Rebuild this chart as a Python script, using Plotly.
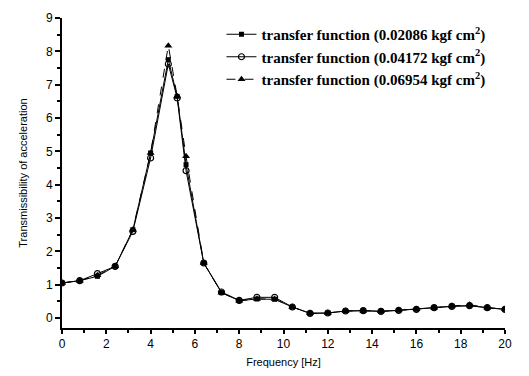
import plotly.graph_objects as go

freq = [0, 0.8, 1.6, 2.4, 3.2, 4.0, 4.8, 5.2, 5.6, 6.4, 7.2, 8.0, 8.8, 9.6, 10.4,
        11.2, 12.0, 12.8, 13.6, 14.4, 15.2, 16.0, 16.8, 17.6, 18.4, 19.2, 20.0]
s1 = [1.05, 1.12, 1.25, 1.55, 2.65, 4.95, 7.75, 6.65, 4.6, 1.65, 0.76, 0.52, 0.57, 0.56, 0.33,
      0.14, 0.15, 0.21, 0.22, 0.2, 0.23, 0.26, 0.31, 0.35, 0.37, 0.31, 0.26]
s2 = [1.05, 1.12, 1.33, 1.55, 2.6, 4.8, 7.62, 6.6, 4.42, 1.65, 0.78, 0.53, 0.62, 0.62, 0.33,
      0.14, 0.15, 0.21, 0.22, 0.2, 0.23, 0.26, 0.31, 0.35, 0.37, 0.31, 0.26]
s3 = [1.05, 1.12, 1.28, 1.55, 2.65, 4.95, 8.17, 6.65, 4.85, 1.65, 0.76, 0.52, 0.57, 0.57, 0.33,
      0.14, 0.15, 0.21, 0.22, 0.2, 0.23, 0.26, 0.31, 0.36, 0.4, 0.31, 0.26]
names = ["transfer function (0.02086 kgf cm<sup>2</sup>)",
         "transfer function (0.04172 kgf cm<sup>2</sup>)",
         "transfer function (0.06954 kgf cm<sup>2</sup>)"]

fig = go.Figure()
fig.add_trace(go.Scatter(x=freq, y=s1, name=names[0], mode="lines+markers",
                         line=dict(color="black", width=1),
                         marker=dict(symbol="square", size=5, color="black")))
fig.add_trace(go.Scatter(x=freq, y=s2, name=names[1], mode="lines+markers",
                         line=dict(color="black", width=1),
                         marker=dict(symbol="circle-open", size=6, color="black", line=dict(width=1.2))))
fig.add_trace(go.Scatter(x=freq, y=s3, name=names[2], mode="lines+markers",
                         line=dict(color="black", width=1, dash="dash"),
                         marker=dict(symbol="triangle-up", size=7, color="black")))

axis_font = dict(family="Liberation Sans, Arial", size=12, color="black")
fig.update_layout(
    width=521, height=368,
    margin=dict(l=54, r=24, t=10, b=48),
    paper_bgcolor="white", plot_bgcolor="white",
    showlegend=True,
    legend=dict(x=0.36, y=1.0, xanchor="left", yanchor="top",
                bgcolor="rgba(0,0,0,0)",
                font=dict(family="Liberation Serif, Times New Roman", size=15, color="black", weight="bold"),
                tracegroupgap=0, itemwidth=30),
    xaxis=dict(range=[0, 20], tickmode="linear", tick0=0, dtick=2, automargin=False,
               showline=True, linecolor="black", linewidth=2,
               ticks="outside", ticklen=4, tickwidth=2, tickcolor="black",
               minor=dict(dtick=1, ticks="outside", ticklen=3, tickwidth=1.5, tickcolor="black"),
               showgrid=False, zeroline=False,
               tickfont=axis_font,
               title=dict(text="Frequency [Hz]", font=dict(family="Liberation Sans, Arial", size=11, color="black"),
                          standoff=8)),
    yaxis=dict(range=[-0.3, 9], tickmode="linear", tick0=0, dtick=1, automargin=False,
               showline=True, linecolor="black", linewidth=2,
               ticks="outside", ticklen=5, tickwidth=2, tickcolor="black",
               minor=dict(dtick=0.5, tick0=0, ticks="outside", ticklen=3, tickwidth=1.5, tickcolor="black"),
               showgrid=False, zeroline=False,
               tickfont=axis_font,
               title=dict(text="Transmissibility of acceleration",
                          font=dict(family="Liberation Sans, Arial", size=11, color="black"),
                          standoff=16)),
)

fig.write_html("out.html")
